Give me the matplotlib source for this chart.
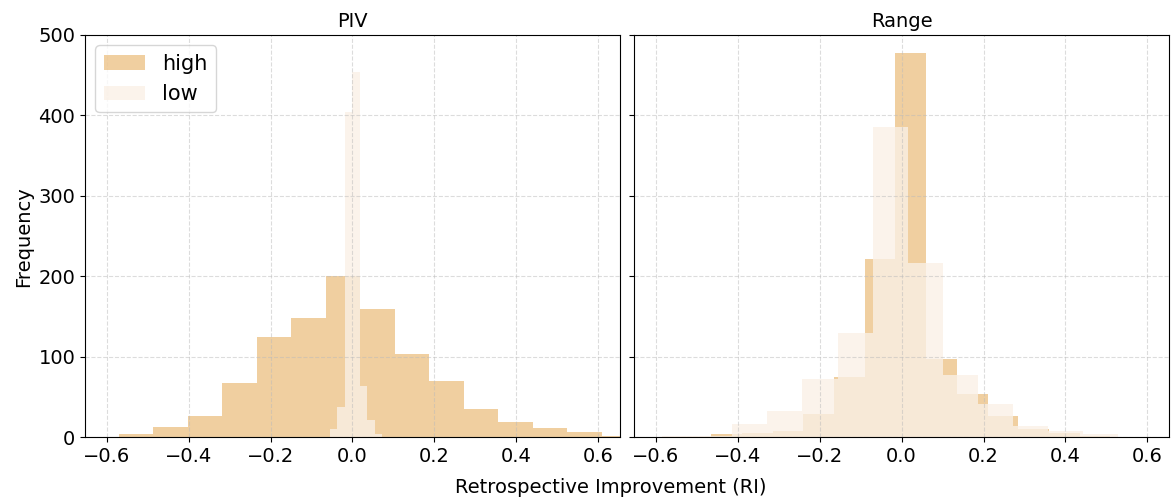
import numpy as np
from matplotlib import pyplot as plt

# PIV panel: bin range + counts
piv_high_range = (-0.571, 0.693)
piv_high_counts = [4, 13, 27, 68, 125, 148, 200, 159, 103, 70, 35, 19, 11, 7, 2]
piv_low_range = (-0.0732, 0.0915)
piv_low_counts = [1, 10, 38, 404, 454, 64, 21, 4, 1]

# Range panel
range_high_range = (-0.465, 0.585)
range_high_counts = [4, 5, 8, 29, 75, 221, 477, 97, 54, 26, 10, 5, 2, 1]
range_low_range = (-0.585, 0.615)
range_low_counts = [2, 2, 16, 33, 72, 130, 385, 217, 77, 41, 14, 8, 4, 1]

titles = ["PIV", "Range"]
HIGH_COLOR = "#e3a043"
LOW_COLOR = "linen"


def draw_hist(ax, span, counts, **kwargs):
    edges = np.linspace(span[0], span[1], len(counts) + 1)
    centers = (edges[:-1] + edges[1:]) / 2
    ax.hist(centers, bins=edges, weights=counts, **kwargs)


plt.rcParams["font.size"] = 14

fig, axes = plt.subplots(1, 2, figsize=(11.71, 4.99), dpi=100, sharey=True)
fig.subplots_adjust(left=0.0726, right=0.9983, bottom=0.1236, top=0.930, wspace=0.027)

panels = [
    (piv_high_range, piv_high_counts, piv_low_range, piv_low_counts),
    (range_high_range, range_high_counts, range_low_range, range_low_counts),
]

for ax, title, (hr, hc, lr, lc) in zip(axes, titles, panels):
    draw_hist(ax, hr, hc, color=HIGH_COLOR, alpha=0.5, label="high")
    draw_hist(ax, lr, lc, color=LOW_COLOR, alpha=0.8, label="low")
    ax.set_title(title, fontsize=14)
    ax.set_xlim(-0.653, 0.653)
    ax.set_ylim(0, 500)
    ax.set_xticks([-0.6, -0.4, -0.2, 0.0, 0.2, 0.4, 0.6])
    # grid sits on top of the bars, like the original
    ax.grid(True, linestyle="--", color="#bbbbbb", alpha=0.5)

axes[0].set_ylabel("Frequency")
axes[0].legend(loc="upper left", fontsize=15)
fig.text(611 / 1171, 0.024, "Retrospective Improvement (RI)", ha="center", va="center", fontsize=14)

plt.savefig("out.png", dpi=100)
